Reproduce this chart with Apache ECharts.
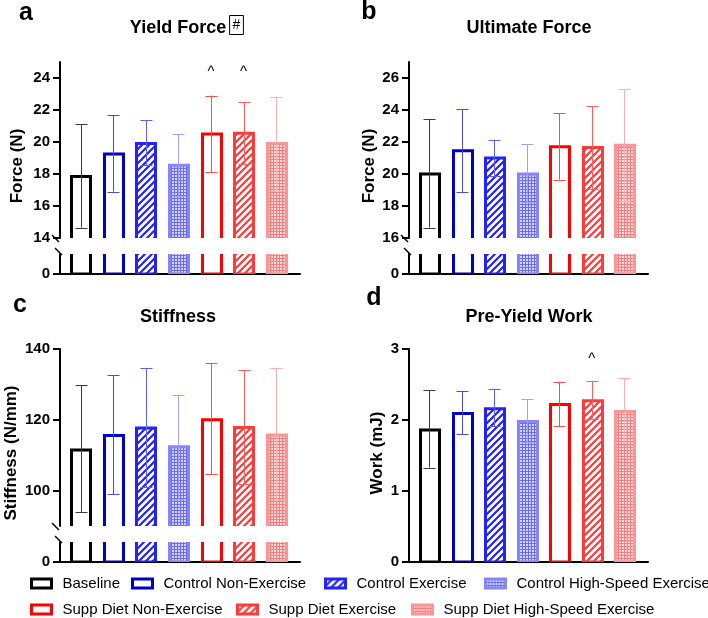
<!DOCTYPE html>
<html><head><meta charset="utf-8">
<script src="https://cdn.jsdelivr.net/npm/echarts@6/dist/echarts.min.js"></script>
<style>html,body{margin:0;padding:0;background:#fff}#c{width:708px;height:618px}</style>
</head><body><div id="c"></div>
<script>
// ---------------- DATA ----------------
const groups = ['Baseline','Control Non-Exercise','Control Exercise','Control High-Speed Exercise',
  'Supp Diet Non-Exercise','Supp Diet Exercise','Supp Diet High-Speed Exercise'];

const yieldMean = [17.85, 19.25, 19.9, 18.55, 20.5, 20.55, 19.9];
const yieldLow  = [14.65, 16.9, 18.55, 16.65, 18.1, 18.6, 16.95];
const yieldHigh = [21.1, 21.7, 21.35, 20.5, 22.9, 22.47, 22.83];

const ultMean = [20.0, 21.45, 21.0, 20.0, 21.7, 21.65, 21.8];
const ultLow  = [16.65, 18.85, 19.85, 18.25, 19.65, 19.05, 18.3];
const ultHigh = [23.45, 24.05, 22.15, 21.85, 23.8, 24.25, 25.3];

const stiffMean = [111.5, 115.6, 117.7, 112.4, 120.0, 117.8, 115.7];
const stiffLow  = [94.0, 99.0, 101.0, 97.7, 104.6, 101.9, 97.3];
const stiffHigh = [129.7, 132.6, 134.5, 127.0, 136.0, 134.0, 134.5];

const workMean = [1.86, 2.09, 2.16, 1.98, 2.22, 2.27, 2.12];
const workLow  = [1.33, 1.80, 1.91, 1.69, 1.915, 2.02, 1.68];
const workHigh = [2.42, 2.41, 2.44, 2.29, 2.54, 2.55, 2.59];

const yieldTicks = [14, 16, 18, 20, 22, 24];
const ultTicks   = [16, 18, 20, 22, 24, 26];
const stiffTicks = [100, 120, 140];
const workTicks  = [0, 1, 2, 3];
const lowerTicks = [0];

// significance markers "^" : [group index, value position]
const yieldCarets = [[4, 24.4], [5, 24.4]];
const workCarets  = [[5, 2.86]];

// ---------------- STYLE ----------------
const FONT = '"Liberation Sans", Arial, sans-serif';
const lineColors = ['#000000','#0000c8','#2222ff','#8585ff','#ff0000','#ff3a3a','#ff9494'];
const errColors  = ['#3a3a3a','#4a4ad6','#5c5cff','#a0a0ff','#ff4a4a','#ff5c5c','#ffadad'];
const fillKinds  = ['plain','plain','hatch','dots','plain','hatch','dots'];
const patternInk = ['#000','#000','#2222ff','#6a6aff','#000','#ff3a3a','#ff7a7a'];
const patternBg  = ['#fff','#fff','#ffffff','#d6d6ff','#fff','#ffffff','#ffdcdc'];

function hatch(color, bg){
  const c = document.createElement('canvas'); c.width = 7; c.height = 7;
  const g = c.getContext('2d');
  g.fillStyle = bg; g.fillRect(0,0,7,7);
  g.strokeStyle = color; g.lineWidth = 2.2;
  g.beginPath();
  g.moveTo(-1,8); g.lineTo(8,-1);
  g.moveTo(-1,1); g.lineTo(1,-1);
  g.moveTo(6,8); g.lineTo(8,6);
  g.stroke();
  return {image: c, repeat: 'repeat'};
}
function dots(color, bg){
  const c = document.createElement('canvas'); c.width = 3; c.height = 3;
  const g = c.getContext('2d');
  g.fillStyle = bg; g.fillRect(0,0,3,3);
  g.fillStyle = color; g.fillRect(0,0,3,1); g.fillRect(0,0,1,3);
  return {image: c, repeat: 'repeat'};
}
const fills = fillKinds.map((k,i) => k === 'hatch' ? hatch(patternInk[i], patternBg[i])
  : k === 'dots' ? dots(patternInk[i], patternBg[i]) : '#ffffff');

const XMIN = -0.63, XMAX = 6.73, BARW = 0.57;

const layout = {
  a: {left:60,  width:240, top:62,  bottom:238, min:14, max:25,  lowTop:254, zero:274},
  b: {left:409, width:239, top:62,  bottom:238, min:16, max:27,  lowTop:254, zero:274},
  c: {left:60,  width:240, top:349, bottom:526, min:90, max:140, lowTop:542, zero:562},
  d: {left:409, width:239, top:349, bottom:562, min:0,  max:3}
};

const panels = [
  {key:'a', mean:yieldMean, low:yieldLow, high:yieldHigh, ticks:yieldTicks, carets:yieldCarets},
  {key:'b', mean:ultMean,   low:ultLow,   high:ultHigh,   ticks:ultTicks,   carets:[]},
  {key:'c', mean:stiffMean, low:stiffLow, high:stiffHigh, ticks:stiffTicks, carets:[]},
  {key:'d', mean:workMean,  low:workLow,  high:workHigh,  ticks:workTicks,  carets:workCarets}
];

const grids = [], xAxes = [], yAxes = [], series = [];

function addGrid(left, top, width, height, ymin, ymax, ticks, showX){
  const gi = grids.length;
  grids.push({left, top, width, height, containLabel:false, outerBoundsMode:'none'});
  xAxes.push({type:'value', gridIndex:gi, min:XMIN, max:XMAX, show:showX,
    axisLine:{show:true, onZero:false, lineStyle:{color:'#000', width:2}},
    axisTick:{show:false}, axisLabel:{show:false}, splitLine:{show:false}});
  yAxes.push({type:'value', gridIndex:gi, min:ymin, max:ymax,
    axisLine:{show:true, onZero:false, lineStyle:{color:'#000', width:2}},
    axisTick:{show:true, length:7, customValues:ticks, lineStyle:{color:'#000', width:2}},
    axisLabel:{show:true, customValues:ticks, margin:10, color:'#000', fontSize:15,
      fontWeight:'bold', fontFamily:FONT},
    splitLine:{show:false}});
  return gi;
}

function barRender(g){
  return function(params, api){
    const x = api.value(0), v = api.value(1);
    const p1 = api.coord([x, v]);
    const p0 = api.coord([x, 0]);
    const w = api.size([BARW, 0])[0];
    return {type:'rect',
      shape:{x: Math.round(p1[0]-w/2)+0.5, y: p1[1], width: Math.round(w), height: p0[1]-p1[1]},
      style:{fill: fills[g], stroke: lineColors[g], lineWidth: 3}};
  };
}
function errRender(params, api){
  const x = api.value(0);
  const pl = api.coord([x, api.value(1)]);
  const ph = api.coord([x, api.value(2)]);
  const cx = Math.round(pl[0]) + 0.5;
  const c = errColors[params.dataIndex];
  const hw = 6;
  return {type:'group', children:[
    {type:'line', shape:{x1:cx, y1:pl[1], x2:cx, y2:ph[1]}, style:{stroke:c, lineWidth:1}},
    {type:'line', shape:{x1:cx-hw, y1:Math.round(ph[1])+0.5, x2:cx+hw, y2:Math.round(ph[1])+0.5}, style:{stroke:c, lineWidth:1}},
    {type:'line', shape:{x1:cx-hw, y1:Math.round(pl[1])+0.5, x2:cx+hw, y2:Math.round(pl[1])+0.5}, style:{stroke:c, lineWidth:1}}
  ]};
}
function caretRender(params, api){
  const p = api.coord([api.value(0), api.value(1)]);
  return {type:'text', x:p[0], y:p[1],
    style:{text:'^', font:'15px ' + FONT, fill:'#000', align:'center', verticalAlign:'middle'}};
}

function addBars(gi, mean){
  groups.forEach((name, g) => {
    series.push({type:'custom', name, xAxisIndex:gi, yAxisIndex:gi, clip:true, silent:true,
      data:[[g, mean[g]]], encode:{x:0, y:1}, renderItem: barRender(g), z:2});
  });
}

const graphics = [];
function brk(x1,y1,x2,y2){
  graphics.push({type:'line', shape:{x1,y1,x2,y2}, style:{stroke:'#000', lineWidth:1.5}, z:100});
}

panels.forEach(p => {
  const L = layout[p.key];
  let up;
  if (L.lowTop !== undefined){
    up = addGrid(L.left, L.top, L.width, L.bottom - L.top, L.min, L.max, p.ticks, false);
    const lo = addGrid(L.left, L.lowTop, L.width, L.zero - L.lowTop, 0, 1, lowerTicks, true);
    addBars(up, p.mean);
    addBars(lo, p.mean);
    brk(L.left-8, L.bottom-3, L.left-1, L.bottom+4);
    brk(L.left-5, L.lowTop-6, L.left+2, L.lowTop+1);
  } else {
    up = addGrid(L.left, L.top, L.width, L.bottom - L.top, L.min, L.max, p.ticks, true);
    addBars(up, p.mean);
  }
  series.push({type:'custom', name:'err-' + p.key, xAxisIndex:up, yAxisIndex:up, silent:true, z:5,
    data: groups.map((n,g) => [g, p.low[g], p.high[g]]), encode:{x:0, y:[1,2]}, renderItem: errRender});
  if (p.carets.length){
    series.push({type:'custom', name:'sig-' + p.key, xAxisIndex:up, yAxisIndex:up, silent:true, z:6,
      data: p.carets, encode:{x:0, y:1}, renderItem: caretRender});
  }
});

// text graphics
function txt(text, x, y, size, bold, opts){
  graphics.push(Object.assign({type:'text', x, y, z:100,
    style:{text, font:(bold?'bold ':'') + size + 'px ' + FONT, fill:'#000', align:'center', verticalAlign:'middle'}}, opts||{}));
}
txt('a', 26, 13, 25, true);
txt('b', 369, 12, 25, true);
txt('c', 20, 305, 25, true);
txt('d', 374, 298, 25, true);
txt('Yield Force', 178, 28, 18, true);
graphics.push({type:'text', x:236.5, y:25, z:100,
  style:{text:'#', font:'14px ' + FONT, fill:'#000', align:'center', verticalAlign:'middle',
    borderColor:'#000', borderWidth:1, padding:[3,3,2,3]}});
txt('Ultimate Force', 529, 28, 18, true);
txt('Stiffness', 178, 317, 18, true);
txt('Pre-Yield Work', 529, 317, 18, true);
txt('Force (N)', 17, 166, 17, true, {rotation: Math.PI/2});
txt('Force (N)', 369, 166, 17, true, {rotation: Math.PI/2});
txt('Stiffness (N/mm)', 11, 453, 17, true, {rotation: Math.PI/2});
txt('Work (mJ)', 377, 453, 17, true, {rotation: Math.PI/2});

// legend: one component per item, placed like the reference
const legendSlots = [[0, 30, 576], [1, 131, 576], [2, 324, 576], [3, 484, 576],
                     [4, 30, 602], [5, 236, 602], [6, 411, 602]];
const legends = legendSlots.map(([g, left, top]) => ({
  left, top, orient:'horizontal', itemWidth:20, itemHeight:9, selectedMode:false, padding:0,
  textStyle:{fontSize:15, color:'#000', fontFamily:FONT, padding:[0,0,0,6]},
  data:[{name: groups[g], icon:'rect',
    itemStyle:{color: fills[g], borderColor: lineColors[g], borderWidth: 3}}]
}));

const chart = echarts.init(document.getElementById('c'), null, {renderer:'canvas'});
chart.setOption({
  animation:false,
  backgroundColor:'#fff',
  textStyle:{fontFamily:FONT},
  grid: grids, xAxis: xAxes, yAxis: yAxes, series,
  legend: legends,
  graphic: graphics
});
</script>
</body></html>
